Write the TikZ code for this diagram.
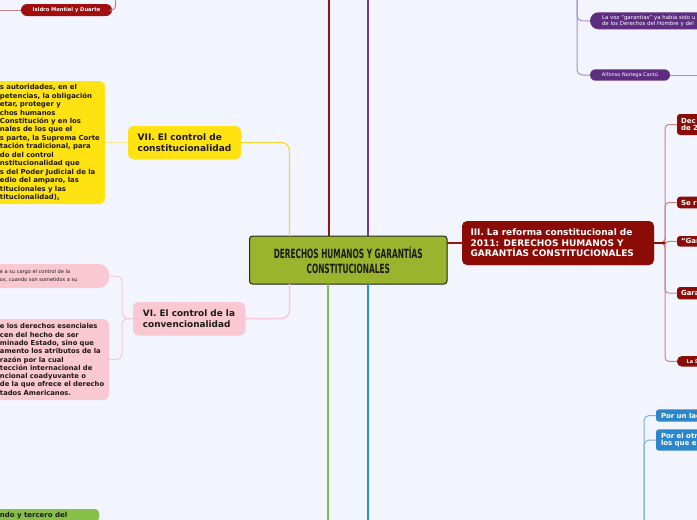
\documentclass[tikz,border=0pt]{standalone}
\usepackage{fontspec}
\setmainfont{DejaVu Sans}
\newfontfamily\titlefont[FakeStretch=0.58]{DejaVu Sans}
\usetikzlibrary{shadows,calc}
\definecolor{bgc}{RGB}{242,245,254}
\definecolor{olive}{RGB}{155,180,46}
\definecolor{ctrdraw}{RGB}{40,40,30}
\definecolor{dred}{RGB}{139,12,7}
\definecolor{isred}{RGB}{160,14,14}
\definecolor{redline}{RGB}{150,20,20}
\definecolor{redthin}{RGB}{205,130,135}
\definecolor{purp}{RGB}{94,44,128}
\definecolor{purpline}{RGB}{110,60,140}
\definecolor{purpthin}{RGB}{170,145,200}
\definecolor{yel}{RGB}{255,226,18}
\definecolor{yelline}{RGB}{245,215,50}
\definecolor{yelthin}{RGB}{250,235,150}
\definecolor{pinkc}{RGB}{249,200,210}
\definecolor{pinkline}{RGB}{250,200,212}
\definecolor{greenc}{RGB}{134,192,70}
\definecolor{greenline}{RGB}{130,190,75}
\definecolor{bluec}{RGB}{44,134,204}
\definecolor{blueline}{RGB}{44,140,214}
\definecolor{bluethin}{RGB}{120,175,225}
\definecolor{ink}{RGB}{30,25,25}
\begin{document}
\begin{tikzpicture}[x=1pt,y=-1pt,
  every node/.style={inner sep=0pt, outer sep=0pt},
  sh/.style={drop shadow={shadow xshift=0.5pt,shadow yshift=-0.8pt,opacity=0.15}},
  centerbox/.style={fill=olive, draw=ctrdraw, line width=1pt, rounded corners=3pt, align=center, text=ink,
    font=\titlefont\bfseries\fontsize{12.7}{15.6}\selectfont, sh},
  mainbox/.style={rounded corners=5pt, align=left, text=ink, sh},
  cutbox/.style={rounded corners=6pt, align=left, text=ink, inner xsep=1pt, inner ysep=2pt},
  rnode/.style={fill=dred, text=white, rounded corners=3pt, anchor=north west, align=left,
    minimum width=60pt, text width=52pt, inner xsep=4pt, font=\bfseries\fontsize{7}{7.7}\selectfont},
  bnode/.style={fill=bluec, text=white, rounded corners=3pt, anchor=north west, align=left,
    minimum width=60pt, text width=50pt, inner xsep=5pt, font=\bfseries\fontsize{7}{7.7}\selectfont},
  pnode/.style={fill=purp, text=white, anchor=north west, font=\fontsize{5}{6.5}\selectfont},
  thick2/.style={line width=2pt},
]
\fill[bgc] (0,0) rectangle (697,520);
\useasboundingbox (0,0) rectangle (697,520);

% ---------- nodes ----------
\node[centerbox, anchor=north west, minimum width=197.5pt, minimum height=48pt] (c) at (249.5,236)
  {DERECHOS HUMANOS Y GARANTÍAS\\CONSTITUCIONALES};

\node[mainbox, fill=yel, anchor=north west, minimum width=113pt, minimum height=33pt,
  font=\bfseries\fontsize{9}{10.6}\selectfont] (vii) at (128,126) {VII. El control de\\constitucionalidad};

\node[mainbox, fill=pinkc, anchor=north west, minimum width=112pt, minimum height=33pt,
  font=\bfseries\fontsize{8.9}{11.5}\selectfont] (vi) at (133,302) {VI. El control de la\\convencionalidad};

\node[mainbox, fill=dred, text=white, anchor=north west, minimum width=192pt, minimum height=44pt,
  text width=175pt, inner xsep=8.5pt, font=\bfseries\fontsize{9}{10.5}\selectfont] (iii) at (462,221)
  {III. La reforma constitucional de\\2011: DERECHOS HUMANOS Y\\GARANTÍAS CONSTITUCIONALES};

\node[cutbox, fill=yel, anchor=north west, text width=127pt, minimum height=123pt,
  font=\bfseries\fontsize{6.9}{8.46}\selectfont] (ybox) at (-24,81)
  {\leftskip=23pt\relax s autoridades, en el\\petencias, la obligación\\etar, proteger y\\chos humanos\\Constitución y en los\\nales de los que el\\s parte, la Suprema Corte\\tación tradicional, para\\do del control\\nstitucionalidad que\\s del Poder Judicial de la\\edio del amparo, las\\titucionales y las\\titucionalidad),\par};

\node[cutbox, fill=pinkc, rounded corners=10pt, anchor=north west, text width=131pt, minimum height=24pt,
  font=\fontsize{5}{7.7}\selectfont] (pk1) at (-24,264)
  {\leftskip=23pt\relax e a su cargo el control de la\\os, cuando son sometidos a su\par};

\node[cutbox, fill=pinkc, anchor=north west, text width=131pt, minimum height=81pt,
  font=\bfseries\fontsize{6.8}{8.29}\selectfont] (pk2) at (-24,319)
  {\leftskip=23pt\relax e los derechos esenciales\\cen del hecho de ser\\minado Estado, sino que\\amento los atributos de la\\razón por la cual\\tección internacional de\\ncional coadyuvante o\\de la que ofrece el derecho\\tados Americanos.\par};

\node[fill=greenc, rounded corners=4pt, anchor=north west, inner xsep=0pt, inner ysep=3pt, text=ink,
  minimum width=130pt, align=left, text width=130pt,
  font=\bfseries\fontsize{7}{8.3}\selectfont] (gbox) at (-31,509)
  {\leftskip=31pt\relax ndo y tercero del\hfill\null\par};

\node[fill=isred, text=white, rounded corners=6pt, anchor=north west, minimum width=91pt, minimum height=12pt,
  font=\bfseries\fontsize{5.2}{6}\selectfont] (isidro) at (21,4) {Isidro Montiel y Duarte};

\node[pnode, rounded corners=8.5pt, minimum height=17pt, text width=130pt, inner xsep=12pt, align=left,
  font=\fontsize{5.4}{6.6}\selectfont] (lavoz) at (590,12.3)
  {La voz “garantías” ya había sido u\\de los Derechos del Hombre y del};
\node[pnode, rounded corners=5.7pt, minimum width=80pt, minimum height=11.4pt] (alf) at (590,69.3) {Alfonso Noriega Cantú};

\node[rnode, minimum height=21pt] (dec) at (677,114) {Dec\\de 2};
\node[rnode, minimum height=11.6pt] (ser) at (677,196.7) {Se r};
\node[rnode, minimum height=10.7pt] (gar) at (677,236) {“Gar};
\node[rnode, minimum height=12.3pt] (gara) at (677,287) {Gara};
\node[rnode, rounded corners=5pt, minimum height=10.7pt, inner xsep=9.7pt, text width=45pt,
  font=\bfseries\fontsize{5}{6}\selectfont] (las) at (677,356) {La S};

\node[bnode, minimum height=12.4pt] (por1) at (656,409.3) {Por un lad};
\node[bnode, minimum height=21.4pt] (por2) at (656,429.3) {Por el otr\\los que el};

% ---------- free ends ----------
\coordinate (isl) at (0,10);
\coordinate (ist) at (115.5,0);
\coordinate (rtop) at (329,0);
\coordinate (ptop) at (368,0);
\coordinate (gbot) at (328,520);
\coordinate (bbot) at (368,520);
\coordinate (ptr) at (577,0);
\coordinate (alfr) at (697,75);
\coordinate (btr) at (644,520);

% ---------- connectors ----------
\draw[redthin, line width=1pt] (isl) -- (isidro.west);
\draw[redthin, line width=1pt, rounded corners=4pt] (isidro.east) -| (ist);

\draw[redline, thick2] (rtop) -- (rtop |- c.north);
\draw[purpline, thick2] (ptop) -- (ptop |- c.north);
\draw[greenline, thick2] (c.south -| gbot) -- (gbot);
\draw[blueline, thick2] (c.south -| bbot) -- (bbot);

\draw[yelline, line width=1.2pt, rounded corners=8pt] ([xshift=40pt]c.north west) |- (vii.east);
\draw[yelthin, line width=1pt] (vii.west) -- (vii.west -| ybox.east);

\draw[pinkline, line width=1.5pt, rounded corners=8pt] ([xshift=40pt]c.south west) |- (vi.east);
\draw[pinkline, line width=1pt, rounded corners=6pt] (vi.west) -- ++(-11,0) |- (pk1.east);
\draw[pinkline, line width=1pt, rounded corners=6pt] (vi.west) -- ++(-11,0) |- (pk2.east);

\draw[redline, line width=1.5pt] (iii.west -| c.east) -- (iii.west);
\draw[redthin, line width=1pt, rounded corners=4pt] (iii.east) -- ++(11,0) |- (dec.west);
\draw[redthin, line width=1pt, rounded corners=4pt] (iii.east) -- ++(11,0) |- (ser.west);
\draw[redthin, line width=1pt, rounded corners=4pt] (iii.east) -- ++(11,0) |- (gar.west);
\draw[redthin, line width=1pt, rounded corners=4pt] (iii.east) -- ++(11,0) |- (gara.west);
\draw[redthin, line width=1pt, rounded corners=4pt] (iii.east) -- ++(11,0) |- (las.west);
\draw[dred, line width=1.3pt] (iii.east) -- ++(11,0);

\draw[purpthin, line width=1pt, rounded corners=5pt] (ptr) |- (lavoz.west);
\draw[purpthin, line width=1pt, rounded corners=5pt] (ptr) |- (alf.west);
\draw[purpthin, line width=1pt] (alf.east) -- (alfr);

\draw[bluethin, line width=1pt, rounded corners=5pt] (btr) |- (por1.west);
\draw[bluethin, line width=1pt, rounded corners=5pt] (btr) |- (por2.west);
\end{tikzpicture}
\end{document}
